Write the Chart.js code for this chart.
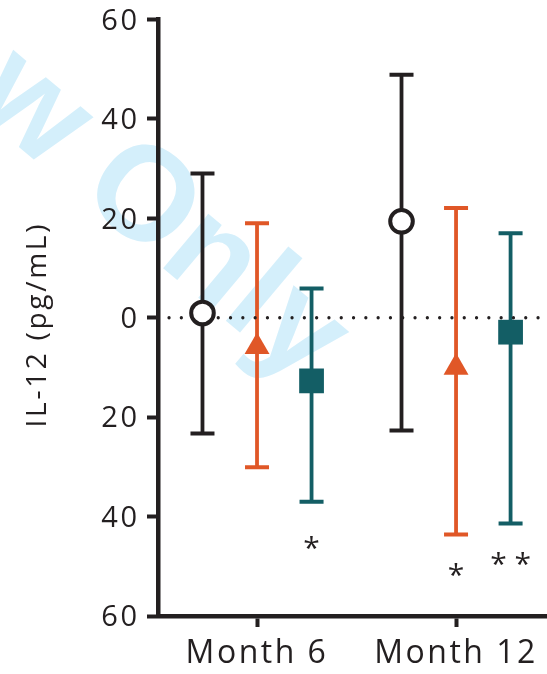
<!DOCTYPE html>
<html>
<head>
<meta charset="utf-8">
<script src="https://cdn.jsdelivr.net/npm/chart.js@4"></script>
<style>
  body { margin: 0; background: #fff; }
  canvas { display: block; }
</style>
</head>
<body>
<canvas id="il12Chart" width="547" height="674"></canvas>
<script>
// data
const categories = ['Month 6', 'Month 12'];
const yTicks = [-60, -40, -20, 0, 20, 40, 60];

const openMean = [0.95, 19.4];
const openLow = [-23.3, -22.7];
const openHigh = [29.0, 48.9];

const triMean = [-5.85, -10.0];
const triLow = [-30.1, -43.6];
const triHigh = [19.0, 22.1];

const sqMean = [-12.7, -2.9];
const sqLow = [-37.0, -41.4];
const sqHigh = [5.9, 17.0];

// significance marks: category, series, y value, text
const sigCat = [0, 1, 1];
const sigSeries = [2, 1, 2];
const sigY = [-45.3, -50.7, -48.5];
const sigText = ['*', '*', '* *'];

// style
const DARK = '#231f20';
const ORANGE = '#e05727';
const TEAL = '#135e65';
const FONT = '"Open Sans"';
const groupOffset = [-0.274, 0, 0.274];

function toPoints(means, s) {
    return means.map((v, i) => ({ x: i + groupOffset[s], y: v }));
}

// error bars + stars
const errorBars = {
    id: 'errorBars',
    beforeDraw(chart) {
        const ctx = chart.ctx;
        ctx.letterSpacing = '2.5px';
        // watermark
        ctx.save();
        ctx.letterSpacing = '0px';
        ctx.translate(147, 192);
        ctx.rotate(40 * Math.PI / 180);
        ctx.font = 'bold 134px "Liberation Sans"';
        ctx.fillStyle = '#d4effb';
        const wO = ctx.measureText('O').width;
        ctx.textBaseline = 'alphabetic';
        ctx.textAlign = 'left';
        ctx.fillText('Only', -wO / 2, 134 * 0.358);
        ctx.textAlign = 'right';
        ctx.fillText('w ', -wO / 2, 134 * 0.358);
        ctx.restore();
    },
    beforeDatasetsDraw(chart) {
        const ctx = chart.ctx;
        const xs = chart.scales.x, ys = chart.scales.y;
        ctx.save();
        chart.data.datasets.forEach(ds => {
            if (!ds.errLow) return;
            ctx.strokeStyle = ds.borderColor;
            ds.data.forEach((p, i) => {
                const px = xs.getPixelForValue(p.x);
                const top = ys.getPixelForValue(ds.errHigh[i]);
                const bot = ys.getPixelForValue(ds.errLow[i]);
                ctx.lineWidth = 3.8;
                ctx.beginPath();
                ctx.moveTo(px, top);
                ctx.lineTo(px, bot);
                ctx.stroke();
                ctx.lineWidth = 4;
                ctx.beginPath();
                ctx.moveTo(px - 12, top);
                ctx.lineTo(px + 12, top);
                ctx.moveTo(px - 12, bot);
                ctx.lineTo(px + 12, bot);
                ctx.stroke();
            });
        });
        ctx.restore();
    },
    afterDraw(chart) {
        const ctx = chart.ctx;
        const xs = chart.scales.x, ys = chart.scales.y;
        ctx.save();
        ctx.fillStyle = DARK;
        ctx.font = '30px ' + FONT;
        ctx.letterSpacing = '0px';
        ctx.textAlign = 'center';
        ctx.textBaseline = 'alphabetic';
        sigText.forEach((t, k) => {
            const px = xs.getPixelForValue(sigCat[k] + groupOffset[sigSeries[k]]);
            const py = ys.getPixelForValue(sigY[k]);
            const m = ctx.measureText(t);
            const asc = m.actualBoundingBoxAscent, desc = m.actualBoundingBoxDescent;
            ctx.fillText(t, px, py + (asc - desc) / 2);
        });
        // y axis title
        ctx.font = '28px ' + FONT;
        ctx.letterSpacing = '2.7px';
        ctx.textBaseline = 'middle';
        ctx.translate(38, 326);
        ctx.rotate(-Math.PI / 2);
        ctx.fillText('IL-12 (pg/mL)', 1.35, 0);
        ctx.restore();
    }
};

const data = {
    datasets: [{
        label: 'Group 1',
        data: toPoints(openMean, 0),
        errLow: openLow,
        errHigh: openHigh,
        pointStyle: 'circle',
        pointRadius: 11.3,
        pointBorderWidth: 4,
        borderColor: DARK,
        backgroundColor: '#ffffff',
        order: 1
    }, {
        label: 'Group 2',
        data: toPoints(triMean, 1),
        errLow: triLow,
        errHigh: triHigh,
        pointStyle: 'triangle',
        pointRadius: 14.4,
        pointBorderWidth: 0,
        borderColor: ORANGE,
        backgroundColor: ORANGE,
        order: 1
    }, {
        label: 'Group 3',
        data: toPoints(sqMean, 2),
        errLow: sqLow,
        errHigh: sqHigh,
        pointStyle: 'rect',
        pointRadius: 17.5,
        pointBorderWidth: 0,
        borderColor: TEAL,
        backgroundColor: TEAL,
        order: 1
    }, {
        type: 'line',
        label: 'zero',
        data: [{ x: -0.442, y: 0 }, { x: 1.457, y: 0 }],
        borderColor: DARK,
        borderWidth: 3.3,
        borderDash: [0, 12.3],
        borderCapStyle: 'round',
        pointRadius: 0,
        order: 10
    }]
};

const config = {
    type: 'scatter',
    data: data,
    plugins: [errorBars],
    options: {
        responsive: false,
        animation: false,
        devicePixelRatio: 1,
        clip: false,
        layout: { autoPadding: false, padding: { top: 19.5, right: 0, left: 0, bottom: 0 } },
        plugins: {
            legend: { display: false },
            tooltip: { enabled: false }
        },
        scales: {
            x: {
                type: 'linear',
                min: -0.4975,
                max: 1.457,
                afterBuildTicks: s => { s.ticks = categories.map((c, i) => ({ value: i })); },
                afterFit: s => { s.height = 58; s.paddingLeft = 0; s.paddingRight = 0; },
                ticks: {
                    callback: v => categories[v],
                    font: { family: FONT, size: 32 },
                    color: DARK,
                    padding: 8,
                    maxRotation: 0,
                    autoSkip: false
                },
                grid: {
                    drawOnChartArea: false,
                    drawTicks: true,
                    tickLength: 11,
                    tickWidth: 4,
                    tickColor: DARK
                },
                border: { color: DARK, width: 4.5 }
            },
            y: {
                min: -60,
                max: 60,
                afterBuildTicks: s => { s.ticks = yTicks.map(v => ({ value: v })); },
                afterFit: s => { s.width = 158; s.paddingTop = 0; s.paddingBottom = 0; },
                ticks: {
                    callback: v => Math.abs(v),
                    font: { family: FONT, size: 29 },
                    color: DARK,
                    padding: 7.5,
                    labelOffset: 2
                },
                grid: {
                    drawOnChartArea: false,
                    drawTicks: true,
                    tickLength: 11,
                    tickWidth: 4,
                    tickColor: DARK
                },
                border: { color: DARK, width: 4.5 }
            }
        }
    }
};

const il12Chart = new Chart(document.getElementById('il12Chart'), config);
</script>
</body>
</html>
